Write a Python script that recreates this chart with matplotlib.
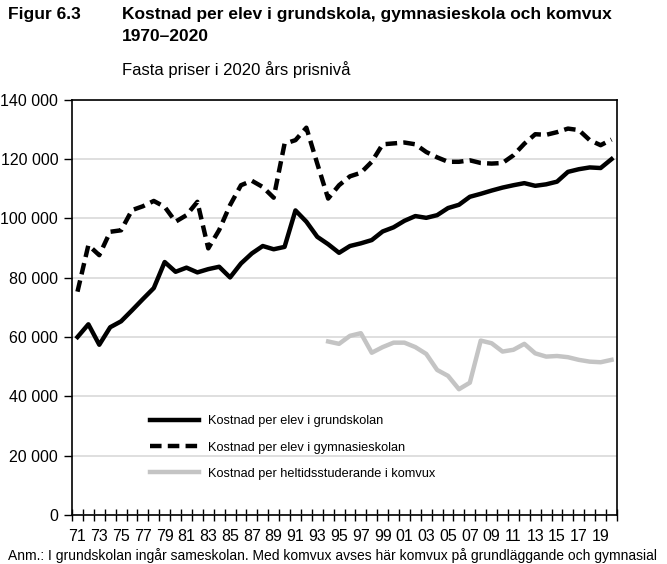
import numpy as np
import matplotlib
matplotlib.use("Agg")
import matplotlib.pyplot as plt
from matplotlib.ticker import FuncFormatter

plt.rcParams['font.family'] = ['Liberation Sans', 'DejaVu Sans']

# data, fixed prices (2020)
years = list(range(1971, 2021))
grundskola = [60000, 64300, 57400, 63300, 65300, 69000, 72800, 76500, 85300, 82000,
              83400, 81800, 82900, 83700, 80100, 84800, 88200, 90700, 89600, 90400,
              102700, 98900, 93800, 91300, 88400, 90700, 91600, 92700, 95600, 97000,
              99200, 100800, 100200, 101100, 103500, 104600, 107300, 108300, 109400, 110400,
              111200, 111900, 111000, 111500, 112400, 115700, 116600, 117200, 117000, 120000]
gymnasieskola = [75300, 91000, 87600, 95500, 96000, 102800, 104100, 105900, 103900, 98900,
                 101100, 105600, 89900, 96100, 104500, 111200, 112700, 110600, 107000, 125200,
                 126400, 130600, 118500, 106700, 111200, 114200, 115400, 119100, 125000, 125300,
                 125600, 125000, 122400, 120600, 119100, 119100, 119600, 118700, 118500, 118700,
                 121300, 125200, 128400, 128200, 129100, 130300, 129800, 126400, 124700, 126600]
komvux_years = list(range(1994, 2021))
komvux = [58500, 57700, 60400, 61300, 54700, 56600, 58100, 58100, 56600, 54300,
          48900, 46900, 42400, 44600, 58800, 57900, 55100, 55700, 57700, 54500,
          53400, 53600, 53200, 52300, 51700, 51500, 52300]

labels = ['Kostnad per elev i grundskolan',
          'Kostnad per elev i gymnasieskolan',
          'Kostnad per heltidsstuderande i komvux']

fig = plt.figure(figsize=(6.67, 5.64), dpi=100)
ax = fig.add_axes([0.108, 0.087, 0.817, 0.736])

x = np.arange(len(years))
xk = np.array([years.index(y) for y in komvux_years])

ax.plot(x, grundskola, color='black', lw=3.2, label=labels[0])
ax.plot(x, gymnasieskola, color='black', lw=3.2, dashes=(2.6, 1.4), label=labels[1])
ax.plot(xk, komvux, color='#c4c4c4', lw=3.2, label=labels[2])

ax.set_xlim(-0.5, len(years) - 0.5)
ax.set_ylim(0, 140000)
ax.set_yticks(np.arange(0, 140001, 20000))
ax.yaxis.set_major_formatter(FuncFormatter(lambda v, p: f"{int(v):,}".replace(',', ' ')))
ax.grid(axis='y', color='#d9d9d9', lw=1.2)
ax.set_axisbelow(True)

ax.set_xticks(x[::2])
ax.set_xticklabels([str(y)[2:] for y in years[::2]])
ax.set_xticks(np.arange(-0.5, len(years)), minor=True)
ax.tick_params(axis='x', which='major', length=0, pad=10, labelsize=11.5)
ax.tick_params(axis='x', which='minor', direction='inout', length=8, width=1)
ax.tick_params(axis='y', length=6, width=1, labelsize=11.5, pad=4)
for s in ax.spines.values():
    s.set_linewidth(1.2)

ax.legend(loc='lower left', bbox_to_anchor=(0.134, 0.072), frameon=False,
          fontsize=9.2, handlelength=3.8, labelspacing=1.12, handletextpad=0.75,
          borderaxespad=0)

fig.text(0.012, 0.974, 'Figur 6.3', fontsize=12.5, fontweight='bold', va='center')
fig.text(0.183, 0.974, 'Kostnad per elev i grundskola, gymnasieskola och komvux',
         fontsize=12.5, fontweight='bold', va='center')
fig.text(0.183, 0.936, '1970–2020', fontsize=12.5, fontweight='bold', va='center')
fig.text(0.183, 0.877, 'Fasta priser i 2020 års prisnivå', fontsize=12, va='center')
fig.text(0.012, 0.002, 'Anm.: I grundskolan ingår sameskolan. Med komvux avses här komvux på grundläggande och gymnasial',
         fontsize=10, va='bottom')

fig.savefig('out.png', dpi=100)
